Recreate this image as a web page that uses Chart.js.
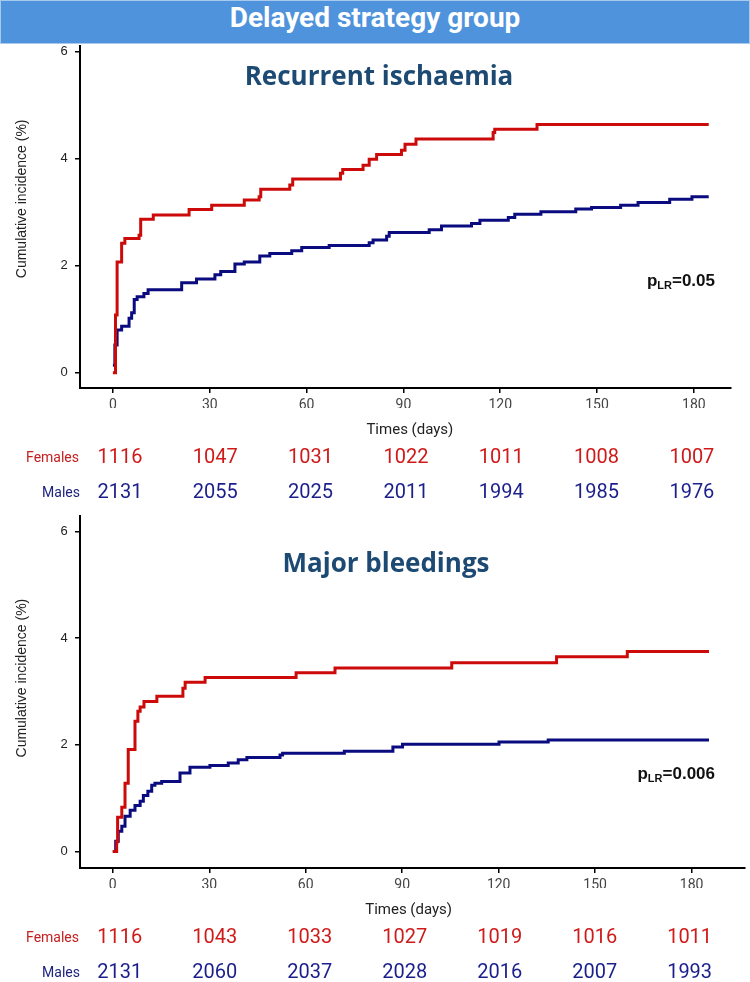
<!DOCTYPE html>
<html>
<head>
<meta charset="utf-8">
<script src="https://cdn.jsdelivr.net/npm/chart.js@4.4.1/dist/chart.umd.min.js"></script>
<style>
  body { margin: 0; width: 750px; height: 982px; background: #fff; overflow: hidden; }
  .header {
    height: 42px; background: #4f93dc; border: 1px solid #a8c9ee;
    color: #fff; text-align: center; line-height: 42px;
    font: bold 28px 'Liberation Sans Narrow', 'Roboto', sans-serif;
  }
  .panel { position: relative; width: 750px; }
</style>
</head>
<body>
<div class="header">Delayed strategy group</div>
<div class="panel" style="height:470px"><canvas id="ischChart"></canvas></div>
<div class="panel" style="height:468px"><canvas id="bleedChart"></canvas></div>
<script>
// time points of the numbers-at-risk table (days)
const riskTimes = [0, 30, 60, 90, 120, 150, 180];

// Recurrent ischaemia - cumulative incidence (%)
const ischFemalesDays = [0, 0.8, 1.3, 2.7, 3.7, 8.1, 8.6, 12.5, 23.6, 30.6, 40.7, 45.3, 45.8, 54.8, 55.7, 70.5, 71.2, 77.5, 79.4, 81.7, 89.4, 90.5, 93.9, 117.8, 118.3, 131.4, 184.6];
const ischFemalesInc = [0, 1.08, 2.07, 2.42, 2.51, 2.57, 2.87, 2.95, 3.05, 3.13, 3.23, 3.29, 3.43, 3.51, 3.62, 3.73, 3.80, 3.88, 3.99, 4.08, 4.16, 4.27, 4.37, 4.49, 4.55, 4.64, 4.64];
const ischMalesDays = [0, 0.6, 1.3, 2.7, 5.0, 5.8, 6.6, 7.5, 9.6, 10.9, 21.3, 25.9, 31.6, 33.4, 37.8, 40.7, 45.5, 48.6, 55.4, 58.5, 67.0, 79.4, 80.6, 84.8, 85.6, 98.0, 101.8, 111.1, 113.7, 122.5, 124.5, 132.6, 143.4, 148.3, 157.3, 162.7, 172.5, 179.4, 184.6];
const ischMalesInc = [0.14, 0.52, 0.80, 0.87, 1.02, 1.12, 1.37, 1.42, 1.48, 1.55, 1.68, 1.75, 1.83, 1.89, 2.03, 2.07, 2.18, 2.23, 2.28, 2.34, 2.38, 2.43, 2.48, 2.55, 2.62, 2.67, 2.74, 2.79, 2.85, 2.90, 2.96, 3.01, 3.06, 3.09, 3.13, 3.18, 3.24, 3.29, 3.29];
const ischFemalesRisk = [1116, 1047, 1031, 1022, 1011, 1008, 1007];
const ischMalesRisk = [2131, 2055, 2025, 2011, 1994, 1985, 1976];

// Major bleedings
const bleedFemalesDays = [0, 1.2, 1.5, 2.8, 3.8, 4.8, 6.9, 7.8, 8.5, 9.7, 13.7, 21.8, 22.5, 28.7, 57.0, 69.1, 105.4, 138.0, 160.0, 185.4];
const bleedFemalesInc = [0, 0.18, 0.64, 0.83, 1.28, 1.91, 2.44, 2.63, 2.71, 2.81, 2.91, 3.06, 3.17, 3.26, 3.35, 3.44, 3.54, 3.65, 3.75, 3.75];
const bleedMalesDays = [0, 0.9, 1.7, 2.8, 3.8, 5.4, 6.9, 8.5, 9.5, 10.9, 12.1, 13.1, 15.2, 20.9, 24.0, 30.2, 35.9, 39.0, 41.7, 52.0, 52.8, 72.0, 87.1, 90.1, 120.1, 135.4, 185.4];
const bleedMalesInc = [0, 0.19, 0.38, 0.47, 0.66, 0.77, 0.86, 0.94, 1.05, 1.13, 1.24, 1.28, 1.31, 1.47, 1.58, 1.61, 1.66, 1.72, 1.76, 1.81, 1.84, 1.88, 1.96, 2.01, 2.05, 2.09, 2.09];
const bleedFemalesRisk = [1116, 1043, 1033, 1027, 1019, 1016, 1011];
const bleedMalesRisk = [2131, 2060, 2037, 2028, 2016, 2007, 1993];

const RED = '#cc0a0a';
const NAVY = '#0b0b80';
const NARROW = "'Liberation Sans Narrow', 'Roboto', sans-serif";

function toPoints(days, inc) {
  return days.map((d, i) => ({ x: d, y: inc[i] }));
}

// draws panel title, y title, p value, x title and the numbers-at-risk table
function panelPlugin(opts) {
  return {
    id: 'panelText',
    afterDraw(chart) {
      const ctx = chart.ctx;
      const xs = chart.scales.x, ys = chart.scales.y;
      const area = chart.chartArea;
      ctx.save();

      ctx.fillStyle = '#1d4a73';
      ctx.font = 'bold ' + opts.titleSize + "px 'Open Sans', sans-serif";
      ctx.textAlign = 'center';
      ctx.textBaseline = 'middle';
      ctx.fillText(opts.title, opts.titleX, opts.titleY);

      ctx.save();
      ctx.translate(22, ys.getPixelForValue(3.25));
      ctx.rotate(-Math.PI / 2);
      ctx.fillStyle = '#222';
      ctx.font = "14px 'Liberation Sans', Arial, sans-serif";
      ctx.fillText('Cumulative incidence (%)', 0, 0);
      ctx.restore();

      // p value with LR subscript, right aligned
      ctx.fillStyle = '#111';
      ctx.textAlign = 'left';
      ctx.textBaseline = 'alphabetic';
      const bigFont = "bold 17px 'Liberation Sans', Arial, sans-serif";
      const subFont = "bold 11px 'Liberation Sans', Arial, sans-serif";
      const rest = '=' + opts.p;
      ctx.font = bigFont; const wP = ctx.measureText('p').width; const wR = ctx.measureText(rest).width;
      ctx.font = subFont; const wS = ctx.measureText('LR').width;
      let px = 715 - (wP + wS + wR);
      const py = opts.pY + 6;
      ctx.font = bigFont; ctx.fillText('p', px, py); px += wP;
      ctx.font = subFont; ctx.fillText('LR', px, py + 3); px += wS;
      ctx.font = bigFont; ctx.fillText(rest, px, py);

      const axisY = area.bottom;
      ctx.textAlign = 'center';
      ctx.textBaseline = 'middle';
      ctx.fillStyle = '#222';
      ctx.font = '15px ' + NARROW;
      ctx.fillText('Times (days)', xs.getPixelForValue(92), axisY + 42);

      ctx.textAlign = 'right';
      ctx.font = '14px ' + NARROW;
      ctx.fillStyle = '#c42020';
      ctx.fillText('Females', 79, axisY + 70);
      ctx.fillStyle = '#1f237f';
      ctx.fillText('Males', 80, axisY + 105);

      ctx.textAlign = 'center';
      ctx.font = '20px ' + NARROW;
      riskTimes.forEach((t, i) => {
        const cx = xs.getPixelForValue(t) + 7 - 1.5 * i;
        ctx.fillStyle = '#cf1a1a';
        ctx.fillText(String(opts.femalesRisk[i]), cx, axisY + 70);
        ctx.fillStyle = '#1a1f8c';
        ctx.fillText(String(opts.malesRisk[i]), cx, axisY + 105);
      });
      ctx.restore();
    }
  };
}

function makeChart(id, opts) {
  const ctx = document.getElementById(id).getContext('2d');
  return new Chart(ctx, {
    type: 'line',
    data: {
      datasets: [
        { label: 'Females', data: toPoints(opts.fDays, opts.fInc), borderColor: RED, borderWidth: 3, stepped: true, pointRadius: 0, fill: false },
        { label: 'Males', data: toPoints(opts.mDays, opts.mInc), borderColor: NAVY, borderWidth: 3, stepped: true, pointRadius: 0, fill: false }
      ]
    },
    options: {
      responsive: true,
      maintainAspectRatio: false,
      animation: false,
      layout: { padding: { top: 2, left: 0, right: opts.padRight, bottom: opts.padBottom } },
      plugins: { legend: { display: false }, tooltip: { enabled: false } },
      scales: {
        x: {
          type: 'linear',
          min: -10.2,
          max: opts.xMax,
          afterBuildTicks: (s) => { s.ticks = riskTimes.map(v => ({ value: v })); },
          afterFit: (s) => { s.height = 20; },
          border: { display: true, color: '#000', width: 2 },
          grid: { drawOnChartArea: false, drawTicks: true, tickLength: 5, color: '#000', lineWidth: 1.5 },
          ticks: { padding: 4, color: '#444', font: { family: NARROW, size: 14 }, maxRotation: 0 }
        },
        y: {
          min: opts.yMin,
          max: opts.yMax,
          afterBuildTicks: (s) => { s.ticks = [0, 2, 4, 6].map(v => ({ value: v })); },
          afterFit: (s) => { s.width = 80; },
          border: { display: true, color: '#000', width: 2 },
          grid: { drawOnChartArea: false, drawTicks: true, tickLength: 5, color: '#000', lineWidth: 1.5 },
          // trailing spaces keep the labels off the tick marks without tick padding
          ticks: { padding: 0, callback: (v) => v + '  ', color: '#222', font: { family: "'Liberation Sans', Arial, sans-serif", size: 13, lineHeight: 0.2 } }
        }
      }
    },
    plugins: [panelPlugin(opts)]
  });
}

makeChart('ischChart', {
  fDays: ischFemalesDays, fInc: ischFemalesInc, mDays: ischMalesDays, mInc: ischMalesInc,
  femalesRisk: ischFemalesRisk, malesRisk: ischMalesRisk,
  title: 'Recurrent ischaemia', titleSize: 26, titleX: 379, titleY: 34,
  p: '0.05', pY: 236,
  xMax: 191.5, yMin: -0.286, yMax: 6.107, padRight: 19, padBottom: 106
});

makeChart('bleedChart', {
  fDays: bleedFemalesDays, fInc: bleedFemalesInc, mDays: bleedMalesDays, mInc: bleedMalesInc,
  femalesRisk: bleedFemalesRisk, malesRisk: bleedMalesRisk,
  title: 'Major bleedings', titleSize: 26, titleX: 386, titleY: 51,
  p: '0.006', pY: 259,
  xMax: 196.6, yMin: -0.311, yMax: 6.29, padRight: 5, padBottom: 94
});
</script>
</body>
</html>
